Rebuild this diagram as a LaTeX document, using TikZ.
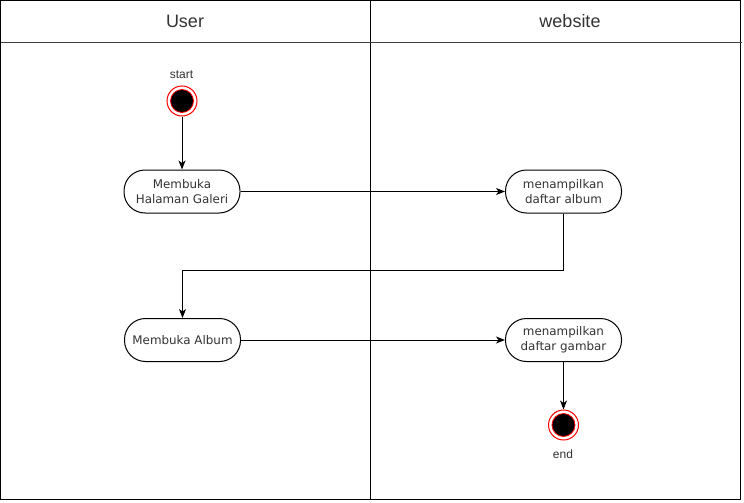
\documentclass[tikz,border=0pt]{standalone}
\usepackage{fontspec}
\setmainfont{Liberation Sans}
\newfontfamily\boxfont{DejaVu Sans}
\usetikzlibrary{arrows.meta}
\begin{document}
\begin{tikzpicture}[x=1pt,y=-1pt,
  act/.style={draw=black, line width=1pt, rounded corners=21pt, minimum width=116pt, minimum height=43pt,
    align=center, font=\boxfont\fontsize{11.9}{14.8}\selectfont, text=black!80, inner sep=0pt},
  flow/.style={draw=black, line width=1pt, -{Stealth[length=9pt,width=7pt,inset=2.5pt]}},
  lane/.style={draw=black, line width=1pt},
  statering/.style={circle, draw=red, line width=1pt, minimum size=30pt, inner sep=0pt},
  statecore/.style={circle, fill=black, draw=red, line width=0.8pt, minimum size=23pt, inner sep=0pt},
  lbl/.style={font=\fontsize{12}{14}\selectfont, text=black!80, inner sep=0pt},
  head/.style={font=\fontsize{18}{20}\selectfont, text=black!80, inner sep=0pt}
]
\useasboundingbox (0,0) rectangle (744,503);
% swimlanes
\draw[lane] (0.5,0.5) rectangle (740.5,499.5);
\draw[lane] (370.5,0.5) -- (370.5,499.5);
\draw[lane, draw=black!75] (0.5,43) -- (742,43);
\node[head] (hu) at (185,21) {User};
\node[head] (hw) at (570,21) {website};
% start
\node[statering] (s) at (182,101) {};
\node[statecore] (sc) at (s) {};
\node[lbl] (ls) at (181.5,75) {start};
% activities
\node[act] (b1) at (182,191.5) {Membuka\\Halaman Galeri};
\node[act] (b2) at (563.5,191.5) {menampilkan\\daftar album};
\node[act] (b3) at (182.5,340) {Membuka Album};
\node[act] (b4) at (563.5,340) {menampilkan\\daftar gambar};
% end
\node[statering] (e) at (563.5,425) {};
\node[statecore] (ec) at (e) {};
\node[lbl] (le) at (563,454) {end};
% connectors
\draw[flow] (s.south) -- (b1.north);
\draw[flow] (b1.east) -- (b2.west);
\draw[flow] (b2.south) -- ++(0,56.5) -| (b3.north);
\draw[flow] (b3.east) -- (b4.west);
\draw[flow] (b4.south) -- (e.north);
\end{tikzpicture}
\end{document}
